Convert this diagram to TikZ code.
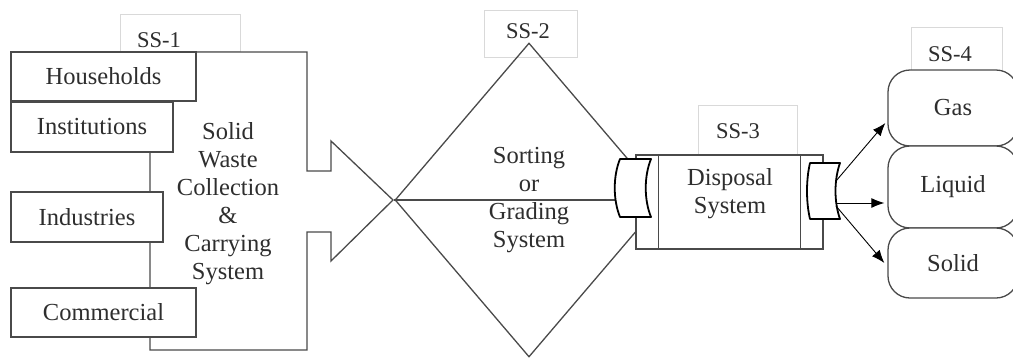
\documentclass[tikz,border=0pt]{standalone}
\usepackage{fontspec}
\setmainfont{Liberation Serif}
\usetikzlibrary{arrows.meta,shapes.geometric}
\definecolor{txt}{HTML}{2E2E2E}
\definecolor{ln}{HTML}{4A4A4A}
\definecolor{lb}{HTML}{D9D9D9}
\begin{document}
\begin{tikzpicture}[x=1pt,y=-1pt,
  mainfont/.style={font=\fontsize{24.5}{28}\selectfont, text=txt},
  srcbox/.style={mainfont, draw=ln, line width=1.3pt, fill=white, inner sep=0pt, minimum height=49pt},
  lblbox/.style={draw=lb, line width=0.8pt, fill=white, inner sep=0pt},
  lbltext/.style={font=\fontsize{22.5}{26}\selectfont, text=txt, inner sep=0pt},
  plain/.style={mainfont, align=center, inner sep=0pt},
  outline/.style={draw=ln, line width=1.3pt, line join=miter},
  thinline/.style={draw=ln, line width=1.3pt},
  coupler/.style={draw=black, line width=1.8pt, fill=white, line join=round},
  phase/.style={mainfont, draw=ln, line width=1.3pt, fill=white, rounded corners=22pt, minimum width=130pt, inner sep=0pt},
  arr/.style={draw=black, line width=0.9pt, -{Latex[length=13pt,width=10pt]}}
]
\useasboundingbox (0,0) rectangle (1013,357);
\clip (0,0) rectangle (1013,357);

% subsystem labels
\node[lblbox, minimum width=120pt, minimum height=37pt] (l1) at (180,32.5) {};
\node[lbltext] (t1) at (159,40) {SS-1};
\node[lblbox, minimum width=93pt, minimum height=47pt] (l2) at (530.5,33.5) {};
\node[lbltext] (t2) at (528,31) {SS-2};
\node[lblbox, minimum width=99pt, minimum height=50pt] (l3) at (747.5,130) {};
\node[lbltext] (t3) at (738,131) {SS-3};
\node[lblbox, minimum width=91pt, minimum height=43pt] (l4) at (956.5,48.5) {};
\node[lbltext] (t4) at (950,54) {SS-4};

% SS-1 collection arrow outline
\draw[outline] (150,52) -- (307,52) -- (307,171) -- (331,171) -- (331,141) -- (393,200)
  -- (331,261) -- (331,232) -- (307,232) -- (307,350) -- (150,350) -- cycle;

% sources
\node[srcbox, minimum width=185pt] (hh) at (103.5,76.5) {Households};
\node[srcbox, minimum width=162pt, minimum height=50pt] (inst) at (92,127) {Institutions};
\node[srcbox, minimum width=152pt, minimum height=50pt] (ind) at (87,217) {Industries};
\node[srcbox, minimum width=185pt] (com) at (103.5,312.5) {Commercial};
\node[plain] (swc) at (228,204) {Solid\\Waste\\Collection\\\&\\Carrying\\System};

% SS-2 sorting diamond
\node[draw=ln, line width=1.3pt, shape=diamond, minimum width=268pt, minimum height=314pt,
  inner sep=0pt, mainfont, align=center] (sg) at (529,200) {Sorting\\or\\Grading\\System};
\coordinate (k1) at (615.6,200);
\draw[thinline] (sg.west) -- (k1);

% SS-3 disposal
\node[draw=ln, line width=1.3pt, fill=white, minimum width=187pt, minimum height=94pt, inner sep=0pt] (ds) at (729.5,202) {};
\draw[thinline] ([xshift=23pt]ds.north west) -- ([xshift=23pt]ds.south west);
\draw[thinline] ([xshift=-23pt]ds.north east) -- ([xshift=-23pt]ds.south east);
\node[plain] (dst) at (730,194) {Disposal\\System};

% couplers
\draw[coupler] (620,159) -- (651,159) .. controls (644,176) and (644,200) .. (651,217)
  -- (620,217) .. controls (613,200) and (613,176) .. (620,159) -- cycle;
\draw[coupler] (810,163) -- (840,163) .. controls (834,180) and (834,202) .. (840,219)
  -- (810,219) .. controls (806,202) and (806,180) .. (810,163) -- cycle;

% SS-4 phases
\node[phase, minimum height=76pt] (gas) at (953,108) {Gas};
\node[phase, minimum height=82pt] (liq) at (953,187) {Liquid};
\node[phase, minimum height=70pt] (sol) at (953,263) {Solid};

\coordinate (k2a) at (836,181);
\coordinate (k2b) at (835.5,203);
\coordinate (k2c) at (836,206);
\draw[arr] (k2a) -- ([xshift=-2pt,yshift=-15pt]gas.west);
\draw[arr] (k2b) -- ([xshift=-3pt,yshift=-16pt]liq.west);
\draw[arr] (k2c) -- ([xshift=-3pt]sol.west);
\end{tikzpicture}
\end{document}
